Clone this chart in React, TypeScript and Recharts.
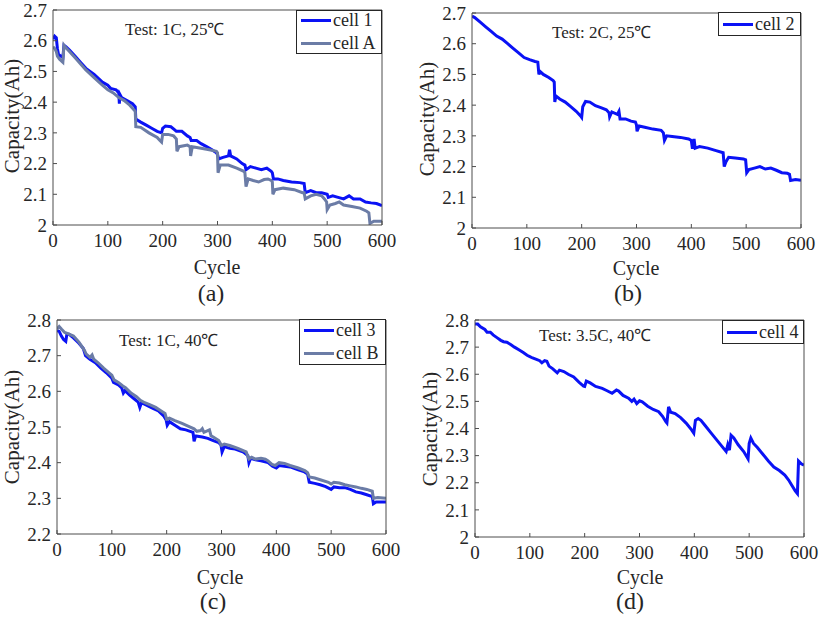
import React from "react";
import { LineChart, Line, XAxis, YAxis } from "recharts";

// capacity (Ah) vs cycle
const cell1: [number, number][] = [
  [0, 2.605], [3, 2.615], [6, 2.61], [8, 2.575], [10, 2.555], [14, 2.55], [18, 2.545], [20, 2.585],
  [24, 2.58], [30, 2.57], [40, 2.55], [50, 2.53], [60, 2.51], [75, 2.49], [90, 2.465], [100, 2.455],
  [105, 2.445], [115, 2.44], [120, 2.43], [121, 2.395], [122, 2.425], [125, 2.415], [135, 2.405],
  [145, 2.395], [150, 2.385], [151, 2.345], [160, 2.335], [170, 2.325], [180, 2.315], [190, 2.305],
  [198, 2.3], [200, 2.315], [205, 2.322], [215, 2.32], [222, 2.31], [225, 2.305], [235, 2.305],
  [245, 2.29], [250, 2.285], [252, 2.275], [262, 2.275], [270, 2.265], [280, 2.255], [290, 2.245],
  [298, 2.235], [300, 2.23], [302, 2.215], [310, 2.22], [320, 2.225], [322, 2.245], [324, 2.225],
  [335, 2.215], [345, 2.2], [350, 2.195], [352, 2.18], [360, 2.19], [370, 2.185], [380, 2.18],
  [390, 2.185], [398, 2.175], [400, 2.17], [402, 2.15], [410, 2.15], [420, 2.145], [435, 2.14],
  [450, 2.138], [458, 2.135], [460, 2.105], [470, 2.112], [480, 2.105], [490, 2.105], [500, 2.1],
  [502, 2.09], [510, 2.095], [520, 2.09], [530, 2.085], [540, 2.095], [548, 2.085], [560, 2.085],
  [570, 2.075], [580, 2.072], [590, 2.07], [600, 2.063],
];

const cellA: [number, number][] = [
  [0, 2.58], [3, 2.575], [6, 2.565], [8, 2.55], [12, 2.54], [18, 2.53], [20, 2.585], [22, 2.58],
  [30, 2.565], [40, 2.545], [50, 2.525], [60, 2.505], [75, 2.48], [90, 2.455], [100, 2.44],
  [110, 2.43], [120, 2.415], [130, 2.405], [140, 2.39], [150, 2.37], [151, 2.32], [160, 2.318],
  [175, 2.3], [190, 2.285], [195, 2.275], [198, 2.27], [200, 2.295], [210, 2.295], [220, 2.29],
  [225, 2.28], [226, 2.24], [230, 2.255], [245, 2.26], [250, 2.255], [251, 2.225], [254, 2.255],
  [270, 2.25], [285, 2.245], [298, 2.24], [300, 2.235], [301, 2.17], [305, 2.195], [320, 2.195],
  [335, 2.185], [348, 2.175], [350, 2.17], [352, 2.125], [356, 2.15], [365, 2.145], [375, 2.14],
  [385, 2.148], [392, 2.15], [398, 2.145], [400, 2.14], [401, 2.1], [405, 2.115], [420, 2.12],
  [440, 2.115], [455, 2.105], [458, 2.105], [460, 2.085], [470, 2.095], [480, 2.1], [490, 2.095],
  [495, 2.085], [499, 2.075], [500, 2.05], [505, 2.065], [515, 2.07], [522, 2.075], [530, 2.065],
  [545, 2.06], [560, 2.055], [572, 2.045], [576, 2.04], [578, 2.005], [585, 2.012], [600, 2.012],
];

const cell2: [number, number][] = [
  [0, 2.69], [5, 2.685], [15, 2.67], [25, 2.655], [35, 2.64], [45, 2.625], [55, 2.615], [65, 2.6],
  [75, 2.585], [85, 2.57], [95, 2.555], [105, 2.548], [115, 2.542], [120, 2.54], [122, 2.5],
  [124, 2.51], [130, 2.5], [140, 2.49], [148, 2.48], [150, 2.475], [151, 2.41], [153, 2.43],
  [160, 2.42], [170, 2.41], [180, 2.395], [190, 2.38], [198, 2.365], [200, 2.36], [202, 2.395],
  [207, 2.412], [215, 2.41], [225, 2.398], [235, 2.392], [245, 2.385], [250, 2.375], [251, 2.362],
  [255, 2.378], [265, 2.37], [268, 2.38], [270, 2.355], [280, 2.355], [290, 2.348], [298, 2.345],
  [300, 2.335], [301, 2.315], [305, 2.332], [315, 2.328], [330, 2.322], [345, 2.318], [349, 2.31],
  [351, 2.285], [355, 2.3], [365, 2.298], [380, 2.295], [395, 2.29], [400, 2.285], [402, 2.258],
  [404, 2.275], [405, 2.29], [407, 2.26], [415, 2.265], [430, 2.26], [445, 2.252], [458, 2.245],
  [460, 2.2], [463, 2.215], [468, 2.23], [480, 2.228], [495, 2.225], [499, 2.222], [501, 2.18],
  [505, 2.19], [515, 2.195], [525, 2.2], [535, 2.192], [545, 2.195], [555, 2.188], [565, 2.18],
  [575, 2.178], [579, 2.175], [581, 2.155], [590, 2.158], [600, 2.155],
];

const cell3: [number, number][] = [
  [0, 2.77], [4, 2.768], [8, 2.755], [12, 2.745], [16, 2.74], [18, 2.76], [22, 2.76], [30, 2.75],
  [40, 2.735], [48, 2.72], [52, 2.7], [60, 2.69], [70, 2.68], [80, 2.665], [90, 2.652], [100, 2.637],
  [103, 2.625], [112, 2.618], [118, 2.61], [121, 2.595], [124, 2.602], [132, 2.59], [140, 2.58],
  [148, 2.57], [151, 2.555], [154, 2.568], [165, 2.56], [175, 2.552], [185, 2.545], [195, 2.53],
  [199, 2.52], [201, 2.505], [205, 2.515], [215, 2.505], [225, 2.495], [235, 2.492], [248, 2.485],
  [250, 2.46], [253, 2.475], [265, 2.472], [275, 2.468], [285, 2.462], [295, 2.456], [299, 2.45],
  [301, 2.43], [305, 2.445], [315, 2.44], [325, 2.438], [340, 2.43], [348, 2.42], [350, 2.4],
  [353, 2.412], [362, 2.408], [372, 2.405], [385, 2.4], [393, 2.39], [400, 2.385], [405, 2.392],
  [415, 2.39], [425, 2.388], [440, 2.38], [450, 2.375], [457, 2.368], [460, 2.345], [470, 2.342],
  [480, 2.338], [490, 2.333], [500, 2.325], [505, 2.332], [515, 2.33], [525, 2.33], [535, 2.325],
  [545, 2.318], [555, 2.315], [565, 2.31], [575, 2.305], [577, 2.285], [582, 2.29], [590, 2.29],
  [600, 2.29],
];

const cellB: [number, number][] = [
  [0, 2.775], [4, 2.782], [8, 2.775], [14, 2.765], [20, 2.762], [30, 2.755], [40, 2.738], [50, 2.715],
  [53, 2.705], [60, 2.695], [64, 2.702], [67, 2.69], [75, 2.68], [85, 2.665], [95, 2.652], [100, 2.645],
  [104, 2.632], [112, 2.625], [120, 2.615], [125, 2.61], [135, 2.595], [145, 2.585], [152, 2.575],
  [160, 2.568], [170, 2.562], [180, 2.555], [190, 2.545], [197, 2.538], [200, 2.522], [205, 2.525],
  [215, 2.518], [228, 2.51], [240, 2.502], [250, 2.495], [255, 2.488], [262, 2.49], [265, 2.495],
  [268, 2.485], [278, 2.492], [281, 2.475], [285, 2.472], [295, 2.462], [300, 2.448], [305, 2.452],
  [315, 2.448], [330, 2.44], [345, 2.43], [350, 2.41], [355, 2.415], [362, 2.41], [372, 2.412],
  [380, 2.41], [385, 2.405], [392, 2.395], [398, 2.392], [405, 2.4], [415, 2.398], [425, 2.392],
  [440, 2.385], [452, 2.378], [457, 2.372], [460, 2.36], [470, 2.357], [480, 2.352], [495, 2.345],
  [500, 2.34], [505, 2.345], [515, 2.343], [525, 2.338], [535, 2.335], [545, 2.332], [555, 2.328],
  [565, 2.325], [575, 2.32], [577, 2.3], [585, 2.302], [600, 2.3],
];

const cell4: [number, number][] = [
  [0, 2.785], [5, 2.785], [10, 2.775], [18, 2.765], [22, 2.755], [28, 2.755], [33, 2.745], [40, 2.735],
  [47, 2.725], [52, 2.72], [58, 2.718], [65, 2.71], [72, 2.7], [80, 2.69], [88, 2.68], [95, 2.67],
  [100, 2.665], [105, 2.66], [112, 2.655], [118, 2.65], [122, 2.642], [127, 2.65], [131, 2.648],
  [135, 2.63], [142, 2.62], [150, 2.605], [154, 2.615], [162, 2.61], [170, 2.6], [180, 2.59],
  [190, 2.57], [198, 2.556], [200, 2.555], [203, 2.575], [210, 2.568], [220, 2.555], [232, 2.548],
  [240, 2.54], [250, 2.53], [258, 2.542], [262, 2.538], [270, 2.522], [280, 2.512], [286, 2.5],
  [290, 2.508], [295, 2.492], [300, 2.502], [305, 2.498], [315, 2.482], [325, 2.47], [335, 2.462],
  [342, 2.445], [348, 2.425], [350, 2.42], [353, 2.48], [357, 2.46], [365, 2.455], [375, 2.44],
  [385, 2.42], [395, 2.395], [399, 2.383], [402, 2.43], [407, 2.437], [412, 2.43], [420, 2.41],
  [430, 2.385], [440, 2.36], [450, 2.335], [458, 2.315], [461, 2.34], [464, 2.32], [467, 2.375],
  [472, 2.365], [480, 2.34], [490, 2.315], [498, 2.288], [500, 2.345], [503, 2.365], [508, 2.345],
  [515, 2.33], [525, 2.305], [535, 2.28], [545, 2.258], [555, 2.245], [565, 2.228], [572, 2.21],
  [578, 2.19], [584, 2.17], [588, 2.16], [590, 2.28], [595, 2.27], [600, 2.265],
];

const cycleTicks = [0, 100, 200, 300, 400, 500, 600];
const capTicks25 = [2, 2.1, 2.2, 2.3, 2.4, 2.5, 2.6, 2.7];
const capTicks40a = [2.2, 2.3, 2.4, 2.5, 2.6, 2.7, 2.8];
const capTicks40b = [2, 2.1, 2.2, 2.3, 2.4, 2.5, 2.6, 2.7, 2.8];

const BLUE = "#0a12f5";
const GREY = "#6b7ca6";
const AXIS = "#4d4d4d";
const TEXT = "#262626";
const FONT = "'Liberation Serif', 'Times New Roman', serif";

const toRows = (pts: [number, number][]) => pts.map(([cycle, cap]) => ({ cycle, cap }));

type Series = { name: string; color: string; points: [number, number][] };

interface PanelProps {
  left: number;
  top: number;
  plot: { l: number; r: number; t: number; b: number }; // local plot box
  yTicks: number[];
  series: Series[];
  note: string;
  noteAt: [number, number];
  legendBox: { x: number; y: number; w: number; h: number };
  ylabelAt: [number, number];
  xlabelAt: [number, number];
  tag: string;
  tagAt: [number, number];
}

const W = 410;
const H = 310;

function Panel(p: PanelProps) {
  const margin = {
    left: p.plot.l - 45,
    right: W - p.plot.r - 1,
    top: p.plot.t - 1,
    bottom: H - p.plot.b - 30,
  };
  const yDomain: [number, number] = [p.yTicks[0], p.yTicks[p.yTicks.length - 1]];
  const axisProps = { stroke: AXIS, tickSize: -4, interval: 0 as const };

  return (
    <div style={{ position: "absolute", left: p.left, top: p.top, width: W, height: H, fontFamily: FONT, color: TEXT }}>
      <LineChart width={W} height={H} margin={margin}>
        <XAxis
          dataKey="cycle"
          type="number"
          domain={[0, 600]}
          ticks={cycleTicks}
          allowDataOverflow
          height={30}
          tickMargin={13}
          tick={{ fill: TEXT, fontSize: 19, fontFamily: FONT }}
          {...axisProps}
        />
        <XAxis xAxisId="top" orientation="top" type="number" domain={[0, 600]} ticks={cycleTicks} height={1} tick={false} {...axisProps} />
        <YAxis
          type="number"
          domain={yDomain}
          ticks={p.yTicks}
          allowDataOverflow
          width={45}
          tickMargin={10}
          tickFormatter={(v: number) => String(v)}
          tick={{ fill: TEXT, fontSize: 19, fontFamily: FONT }}
          {...axisProps}
        />
        <YAxis yAxisId="right" orientation="right" type="number" domain={yDomain} ticks={p.yTicks} width={1} tick={false} {...axisProps} />
        {p.series.map((s) => (
          <Line
            key={s.name}
            data={toRows(s.points)}
            dataKey="cap"
            name={s.name}
            type="linear"
            stroke={s.color}
            strokeWidth={3}
            dot={false}
            isAnimationActive={false}
          />
        ))}
      </LineChart>

      <div style={{ position: "absolute", left: p.noteAt[0], top: p.noteAt[1], fontSize: 17, lineHeight: 1, transform: "translateY(-50%)", whiteSpace: "nowrap" }}>
        {p.note}
      </div>

      <div
        style={{
          position: "absolute",
          left: p.legendBox.x,
          top: p.legendBox.y,
          width: p.legendBox.w,
          height: p.legendBox.h,
          border: `1px solid ${TEXT}`,
          background: "#fff",
          boxSizing: "border-box",
          display: "flex",
          flexDirection: "column",
          justifyContent: "center",
          gap: 3,
          paddingLeft: 4,
        }}
      >
        {p.series.map((s) => (
          <div key={s.name} style={{ display: "flex", alignItems: "center", height: 20, fontSize: 18, whiteSpace: "nowrap" }}>
            <span style={{ display: "inline-block", width: 30, height: 3, background: s.color, marginRight: 2 }} />
            <span>{s.name}</span>
          </div>
        ))}
      </div>

      <div
        style={{
          position: "absolute",
          left: p.ylabelAt[0],
          top: p.ylabelAt[1],
          fontSize: 21,
          lineHeight: 1,
          whiteSpace: "nowrap",
          transform: "translate(-50%, -50%) rotate(-90deg)",
        }}
      >
        Capacity(Ah)
      </div>
      <div style={{ position: "absolute", left: p.xlabelAt[0], top: p.xlabelAt[1], fontSize: 20, lineHeight: 1, transform: "translate(-50%, -50%)" }}>
        Cycle
      </div>
      <div style={{ position: "absolute", left: p.tagAt[0], top: p.tagAt[1], fontSize: 24, lineHeight: 1, transform: "translate(-50%, -50%)" }}>
        {p.tag}
      </div>
    </div>
  );
}

export default function App() {
  return (
    <div style={{ position: "absolute", left: 0, top: 0, width: 820, height: 619, background: "#fff", overflow: "hidden" }}>
      <Panel
        left={0}
        top={0}
        plot={{ l: 53, r: 382, t: 10, b: 225 }}
        yTicks={capTicks25}
        series={[
          { name: "cell 1", color: BLUE, points: cell1 },
          { name: "cell A", color: GREY, points: cellA },
        ]}
        note="Test: 1C, 25℃"
        noteAt={[125, 29]}
        legendBox={{ x: 296, y: 10, w: 86, h: 44 }}
        ylabelAt={[12, 116]}
        xlabelAt={[217, 267]}
        tag="(a)"
        tagAt={[211, 293]}
      />
      <Panel
        left={410}
        top={0}
        plot={{ l: 62, r: 391, t: 13, b: 228 }}
        yTicks={capTicks25}
        series={[{ name: "cell 2", color: BLUE, points: cell2 }]}
        note="Test: 2C, 25℃"
        noteAt={[142, 32]}
        legendBox={{ x: 308, y: 12, w: 83, h: 24 }}
        ylabelAt={[17, 119]}
        xlabelAt={[226, 268]}
        tag="(b)"
        tagAt={[218, 293]}
      />
      <Panel
        left={0}
        top={310}
        plot={{ l: 57, r: 386, t: 10, b: 224 }}
        yTicks={capTicks40a}
        series={[
          { name: "cell 3", color: BLUE, points: cell3 },
          { name: "cell B", color: GREY, points: cellB },
        ]}
        note="Test: 1C, 40℃"
        noteAt={[119, 30]}
        legendBox={{ x: 299, y: 9, w: 87, h: 46 }}
        ylabelAt={[12, 117]}
        xlabelAt={[220, 267]}
        tag="(c)"
        tagAt={[213, 291]}
      />
      <Panel
        left={410}
        top={310}
        plot={{ l: 65, r: 394, t: 10, b: 227 }}
        yTicks={capTicks40b}
        series={[{ name: "cell 4", color: BLUE, points: cell4 }]}
        note="Test: 3.5C, 40℃"
        noteAt={[129, 25]}
        legendBox={{ x: 312, y: 10, w: 82, h: 24 }}
        ylabelAt={[20, 119]}
        xlabelAt={[230, 267]}
        tag="(d)"
        tagAt={[220, 291]}
      />
    </div>
  );
}
